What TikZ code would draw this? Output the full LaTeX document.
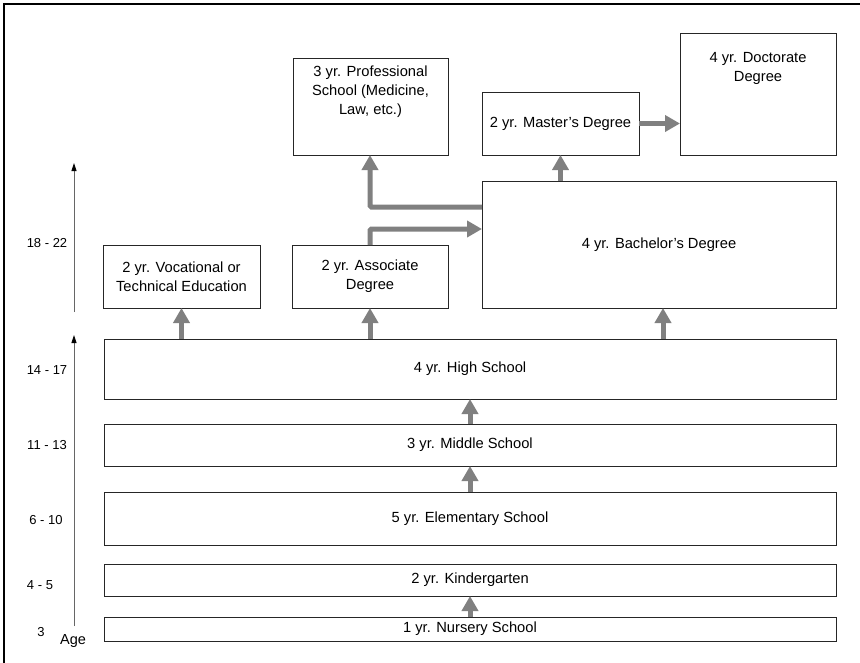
\documentclass[tikz,border=0pt]{standalone}
\usepackage{fontspec}
\setmainfont{Liberation Sans}
\usetikzlibrary{arrows.meta}
\begin{document}
\begin{tikzpicture}[x=1pt,y=-1pt,
  box/.style={draw=black!85,line width=0.9pt,inner sep=0pt,outer sep=0pt,align=center,
    font=\fontsize{14.7}{19}\selectfont},
  txt/.style={inner sep=0pt,align=center,font=\fontsize{14.7}{19}\selectfont},
  bigarrow/.style={draw=black!50,line width=5pt,rounded corners=1.5pt,
    -{Triangle[width=16pt,length=15pt]}},
  agearrow/.style={draw=black!60,line width=0.9pt,-{Triangle[width=5pt,length=8pt,fill=black,color=black]}},
  agelbl/.style={inner sep=0pt,font=\fontsize{13}{15}\selectfont}]
\useasboundingbox (0,0) rectangle (860,662);
\fill[white] (0,0) rectangle (860,662);
\draw[line width=2pt,black] (4,4) rectangle (900,700);
% boxes
\node[box,minimum width=732pt,minimum height=24pt] (nur) at (470,629) {1 yr. Nursery School};
\node[box,minimum width=732pt,minimum height=32pt] (kin) at (470,580) {2 yr. Kindergarten};
\node[box,minimum width=732pt,minimum height=53pt] (ele) at (470,518.5) {5 yr. Elementary School};
\node[box,minimum width=732pt,minimum height=42pt] (mid) at (470,445) {3 yr. Middle School};
\node[box,minimum width=732pt,minimum height=60pt] (high) at (470,369) {4 yr. High School};
\node[box,minimum width=157pt,minimum height=63pt] (voc) at (181.5,276.5) {2 yr. Vocational or\\Technical Education};
\node[box,minimum width=156pt,minimum height=63pt] (asso) at (370,276.5) {2 yr. Associate\\Degree};
\node[box,minimum width=354pt,minimum height=127pt] (bach) at (659,244.5) {4 yr. Bachelor's Degree};
\node[box,minimum width=155pt,minimum height=97pt] (prof) at (370.5,106.5) {};
\node[txt] (proftxt) at (370.5,91.5) {3 yr. Professional\\School (Medicine,\\Law, etc.)};
\node[box,minimum width=157pt,minimum height=63pt] (mast) at (560.5,123.5) {2 yr. Master's Degree};
\node[box,minimum width=156pt,minimum height=122pt] (doc) at (758,94) {};
\node[txt] (doctxt) at (758,68.5) {4 yr. Doctorate\\Degree};
% big arrows
\draw[bigarrow] (nur.north) -- (kin.south);
\draw[bigarrow] (ele.north) -- (mid.south);
\draw[bigarrow] (mid.north) -- (high.south);
\draw[bigarrow] (high.north -| voc.south) -- (voc.south);
\draw[bigarrow] (high.north -| asso.south) -- (asso.south);
\coordinate (hb) at (663,339);
\coordinate (bb) at (663,308);
\draw[bigarrow] (hb) -- (bb);
\coordinate (j1) at (482,229);
\draw[bigarrow] (asso.north) |- (j1);
\coordinate (j2) at (482,207);
\coordinate (pb) at (370,155);
\draw[bigarrow] (j2) -| (pb);
\draw[bigarrow] (bach.north -| mast.south) -- (mast.south);
\draw[bigarrow] (mast.east) -- (doc.west |- mast.east);
% age axis
\coordinate (a1) at (74,626);
\coordinate (a2) at (74,335);
\coordinate (a3) at (74,312);
\coordinate (a4) at (74,163);
\draw[agearrow] (a1) -- (a2);
\draw[agearrow] (a3) -- (a4);
\node[agelbl] (l1) at (47,243) {18 - 22};
\node[agelbl] (l2) at (47,370) {14 - 17};
\node[agelbl] (l3) at (47,445) {11 - 13};
\node[agelbl] (l4) at (46,520) {6 - 10};
\node[agelbl] (l5) at (40,585) {4 - 5};
\node[agelbl] (l6) at (41,632) {3};
\node[inner sep=0pt,font=\fontsize{14.5}{16}\selectfont] (age) at (73,641) {Age};
\end{tikzpicture}
\end{document}
